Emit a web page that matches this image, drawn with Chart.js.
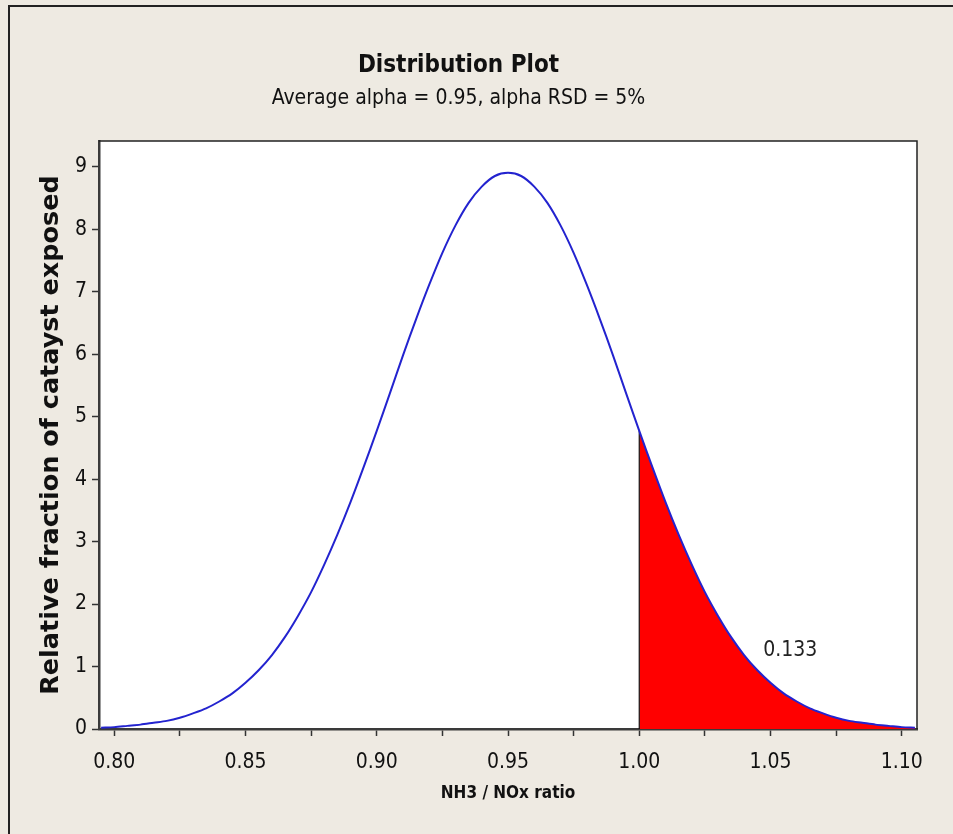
<!DOCTYPE html>
<html>
<head>
<meta charset="utf-8">
<script src="https://cdn.jsdelivr.net/npm/chart.js@4"></script>
<style>
  html, body { margin: 0; padding: 0; background: #eeeae2; }
  #wrap { width: 953px; height: 834px; }
</style>
</head>
<body>
<div id="wrap"><canvas id="distChart" width="953" height="834"></canvas></div>
<script>
// valores
const ratio = [
  0.795, 0.800, 0.805, 0.810, 0.815, 0.820, 0.825, 0.830, 0.835, 0.840,
  0.845, 0.850, 0.855, 0.860, 0.865, 0.870, 0.875, 0.880, 0.885, 0.890,
  0.895, 0.900, 0.905, 0.910, 0.915, 0.920, 0.925, 0.930, 0.935, 0.940,
  0.945, 0.950, 0.955, 0.960, 0.965, 0.970, 0.975, 0.980, 0.985, 0.990,
  0.995, 1.000, 1.005, 1.010, 1.015, 1.020, 1.025, 1.030, 1.035, 1.040,
  1.045, 1.050, 1.055, 1.060, 1.065, 1.070, 1.075, 1.080, 1.085, 1.090,
  1.095, 1.100, 1.105
];
const fraction = [
  0.02, 0.03, 0.05, 0.07, 0.10, 0.13, 0.18, 0.25, 0.33, 0.44,
  0.57, 0.74, 0.94, 1.18, 1.47, 1.81, 2.19, 2.63, 3.11, 3.63,
  4.19, 4.77, 5.37, 5.98, 6.56, 7.11, 7.62, 8.06, 8.42, 8.68,
  8.85, 8.90, 8.85, 8.68, 8.42, 8.06, 7.62, 7.11, 6.56, 5.98,
  5.37, 4.77, 4.19, 3.63, 3.11, 2.63, 2.19, 1.81, 1.47, 1.18,
  0.94, 0.74, 0.57, 0.44, 0.33, 0.25, 0.18, 0.13, 0.10, 0.07,
  0.05, 0.03, 0.02
];
const cutoff = 1.00;
const tailArea = "0.133";
const tailLabelAt = [1.0575, 1.25];
const xTicks = [0.800, 0.825, 0.850, 0.875, 0.900, 0.925, 0.950, 0.975, 1.000, 1.025, 1.050, 1.075, 1.100];
const xMajor = [0.80, 0.85, 0.90, 0.95, 1.00, 1.05, 1.10];
const yTicks = [0, 1, 2, 3, 4, 5, 6, 7, 8, 9];

const condensed = '"DejaVu Sans Condensed", "Open Sans", sans-serif';

const curve = ratio.map((x, i) => ({ x: x, y: fraction[i] }));
const tail = curve.filter(p => p.x >= cutoff - 1e-9);
const cutY = tail[0].y;

// fondo, marco y etiqueta del area
const framePlugin = {
  id: "frame",
  beforeDraw(chart) {
    const ctx = chart.ctx, a = chart.chartArea;
    ctx.save();
    ctx.fillStyle = "#eeeae2";
    ctx.fillRect(0, 0, chart.width, chart.height);
    ctx.fillStyle = "#ffffff";
    ctx.fillRect(a.left, a.top, a.right - a.left, a.bottom - a.top);
    ctx.strokeStyle = "#222";
    ctx.lineWidth = 2;
    ctx.beginPath();
    ctx.moveTo(9, chart.height);
    ctx.lineTo(9, 6);
    ctx.lineTo(chart.width, 6);
    ctx.stroke();
    ctx.restore();
  },
  afterDatasetsDraw(chart) {
    const ctx = chart.ctx, a = chart.chartArea;
    const xs = chart.scales.x, ys = chart.scales.y;
    ctx.save();
    ctx.strokeStyle = "#222";
    ctx.lineWidth = 1.5;
    ctx.beginPath();
    ctx.moveTo(a.left, a.top);
    ctx.lineTo(a.right, a.top);
    ctx.lineTo(a.right, a.bottom);
    ctx.stroke();
    ctx.fillStyle = "#222";
    ctx.font = "21px " + condensed;
    ctx.textAlign = "center";
    ctx.textBaseline = "middle";
    ctx.fillText(tailArea, xs.getPixelForValue(tailLabelAt[0]), ys.getPixelForValue(tailLabelAt[1]));
    ctx.restore();
  }
};

new Chart(document.getElementById("distChart"), {
  type: "line",
  data: {
    datasets: [
      {
        label: "curva",
        data: curve,
        borderColor: "#2323cf",
        borderWidth: 2,
        pointRadius: 0,
        tension: 0.3,
        fill: false,
        order: 0
      },
      {
        label: "cola",
        data: tail,
        borderWidth: 0,
        backgroundColor: "#ff0000",
        pointRadius: 0,
        tension: 0.3,
        fill: "origin",
        order: 2
      },
      {
        label: "corte",
        data: [{ x: cutoff, y: 0 }, { x: cutoff, y: cutY }],
        borderColor: "#111",
        borderWidth: 1.2,
        pointRadius: 0,
        fill: false,
        order: 1
      }
    ]
  },
  options: {
    responsive: false,
    animation: false,
    layout: { padding: { left: 0, right: 36, top: 0, bottom: 0 } },
    plugins: {
      legend: { display: false },
      tooltip: { enabled: false },
      title: {
        display: true,
        text: "Distribution Plot",
        color: "#111",
        font: { family: condensed, size: 24, weight: "bold" },
        padding: { top: 51, bottom: 0 }
      },
      subtitle: {
        display: true,
        text: "Average alpha = 0.95, alpha RSD = 5%",
        color: "#111",
        font: { family: condensed, size: 21 },
        padding: { top: 6.6, bottom: 29.4 }
      }
    },
    scales: {
      x: {
        type: "linear",
        min: 0.7942,
        max: 1.1058,
        afterBuildTicks(scale) {
          scale.ticks = xTicks.map(v => ({ value: v }));
        },
        afterFit(scale) { scale.height = 105; },
        ticks: {
          color: "#111",
          font: { family: condensed, size: 21 },
          padding: 14,
          maxRotation: 0,
          autoSkip: false,
          callback: v => xMajor.some(m => Math.abs(m - v) < 1e-6) ? v.toFixed(2) : ""
        },
        grid: { drawOnChartArea: false, drawTicks: true, tickLength: 7, tickColor: "#333", tickWidth: 1.5 },
        border: { color: "#3a3a3a", width: 2.5 },
        title: {
          display: true,
          text: "NH3 / NOx ratio",
          color: "#111",
          font: { family: condensed, size: 17, weight: "bold" },
          padding: { top: 0, bottom: 30 }
        }
      },
      y: {
        type: "linear",
        min: 0,
        max: 9.41,
        afterBuildTicks(scale) {
          scale.ticks = yTicks.map(v => ({ value: v }));
        },
        afterFit(scale) { scale.width = 99; },
        ticks: {
          color: "#111",
          font: { family: condensed, size: 21 },
          padding: 5,
          callback: v => String(v)
        },
        grid: { drawOnChartArea: false, drawTicks: true, tickLength: 7, tickColor: "#333", tickWidth: 1.5 },
        border: { color: "#3a3a3a", width: 2.5 },
        title: {
          display: true,
          text: "Relative fraction of catayst exposed",
          color: "#111",
          font: { family: '"DejaVu Sans", Verdana, sans-serif', size: 25.5, weight: "bold" },
          padding: { top: 36, bottom: 0 }
        }
      }
    }
  },
  plugins: [framePlugin]
});
</script>
</body>
</html>
